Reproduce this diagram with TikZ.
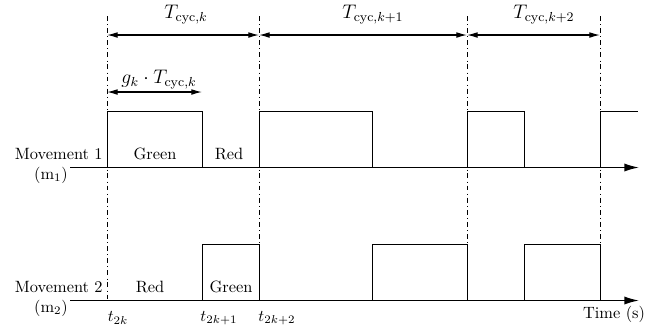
\documentclass[tikz,border=0pt]{standalone}
\usetikzlibrary{arrows.meta}
\begin{document}
\begin{tikzpicture}[x=0.611pt,y=-0.611pt,
  sig/.style={line width=0.5pt},
  axis/.style={line width=0.9pt,-{Latex[length=9pt,width=5pt]}},
  guide/.style={line width=0.4pt,dash dot},
  dim/.style={line width=0.7pt,{Latex[length=6.5pt,width=3.5pt]}-{Latex[length=6.5pt,width=3.5pt]}},
  lbl/.style={inner sep=0pt},
  mlbl/.style={inner sep=0pt,font=\large}]
\useasboundingbox (0,0) rectangle (662,329);
% coordinates
\foreach \n/\x in {a/107,b/259,c/467,d/600}{
  \coordinate (\n top) at (\x,16);
  \coordinate (\n bot) at (\x,300.5);
}
% guides
\draw[guide] (atop) -- (abot);
\draw[guide] (btop) -- (bbot);
\draw[guide] (ctop) -- (cbot);
\draw[guide] (dtop) -- (dbot);
% axes
\coordinate (ax1s) at (70,167.5); \coordinate (ax1e) at (639,167.5);
\coordinate (ax2s) at (70,300.5); \coordinate (ax2e) at (639,300.5);
\draw[axis] (ax1s) -- (ax1e);
\draw[axis] (ax2s) -- (ax2e);
% movement 1 signal
\draw[sig] (107,167.5) -- (107,111) -- (202,111) -- (202,167.5)
  (259,167.5) -- (259,111) -- (372,111) -- (372,167.5)
  (467,167.5) -- (467,111) -- (524,111) -- (524,167.5)
  (600,167.5) -- (600,111) -- (638,111);
% movement 2 signal
\draw[sig] (202,300.5) -- (202,244) -- (259,244) -- (259,300.5)
  (372,300.5) -- (372,244) -- (467,244) -- (467,300.5)
  (524,300.5) -- (524,244) -- (600,244) -- (600,300.5);
% dimension arrows
\coordinate (da) at (107,35); \coordinate (db) at (259,35);
\coordinate (dc) at (467,35); \coordinate (dd) at (600,35);
\draw[dim] (da) -- (db);
\draw[dim] (db) -- (dc);
\draw[dim] (dc) -- (dd);
\node[mlbl] (Tk) at (186,15) {$T_{\mathrm{cyc},k}$};
\node[mlbl] (Tk1) at (373,15) {$T_{\mathrm{cyc},k+1}$};
\node[mlbl] (Tk2) at (544,15) {$T_{\mathrm{cyc},k+2}$};
\coordinate (ga) at (107,92); \coordinate (gb) at (202,92);
\draw[dim] (ga) -- (gb);
\node[mlbl] (gk) at (159,80) {$g_k\cdot T_{\mathrm{cyc},k}$};
% labels
\node[lbl,anchor=east] (m1) at (103,154) {Movement 1};
\node[lbl] (m1s) at (51,175) {(m$_1$)};
\node[lbl,anchor=east] (m2) at (103,287) {Movement 2};
\node[lbl] (m2s) at (51,308) {(m$_2$)};
\node[lbl] (g1) at (155,154) {Green};
\node[lbl] (r1) at (229,154) {Red};
\node[lbl] (r2) at (150,287) {Red};
\node[lbl] (g2) at (231,287) {Green};
\node[lbl] (t0) at (118,318) {$t_{2k}$};
\node[lbl] (t1) at (219,318) {$t_{2k+1}$};
\node[lbl] (t2) at (277,318) {$t_{2k+2}$};
\node[lbl] (time) at (614,314) {Time (s)};
\end{tikzpicture}
\end{document}
